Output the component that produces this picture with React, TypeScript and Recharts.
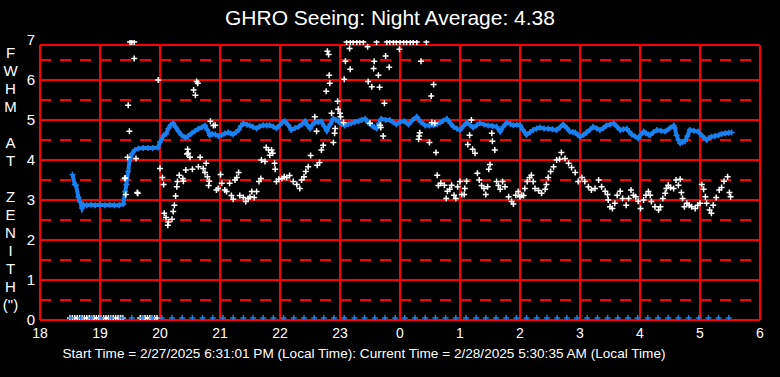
import React from 'react'
import { ScatterChart, Scatter, XAxis, YAxis, ReferenceLine } from 'recharts'

// hours after 18:00, values past midnight continue as 24, 25 ...
const hourTicks = [18, 19, 20, 21, 22, 23, 24, 25, 26, 27, 28, 29, 30]
const seeingTicks = [0, 1, 2, 3, 4, 5, 6, 7]
const solidLevels = [0, 1, 2, 3, 4, 5, 6]
const dashedLevels = [0.5, 1.5, 2.5, 3.5, 4.5, 5.5, 6.5]
const plotTop = 6.875

const yTitle = ['F', 'W', 'H', 'M', '', 'A', 'T', '', 'Z', 'E', 'N', 'I', 'T', 'H', '(")']

// night average trace (blue)
const averageSeeing = [
  [18.54, 3.64], [18.58, 3.39], [18.6, 3.37], [18.64, 3.07], [18.67, 2.95], [18.7, 2.8], [18.72, 2.88],
  [18.78, 2.87], [18.85, 2.88], [18.92, 2.87], [19.0, 2.88], [19.08, 2.87], [19.16, 2.88], [19.24, 2.87],
  [19.32, 2.87], [19.39, 2.9], [19.42, 3.21], [19.44, 3.39], [19.47, 3.71], [19.49, 3.96], [19.53, 4.15],
  [19.58, 4.25], [19.64, 4.29], [19.72, 4.3], [19.8, 4.3], [19.88, 4.3], [19.97, 4.31], [20.0, 4.45],
  [20.06, 4.62], [20.1, 4.65], [20.14, 4.79], [20.18, 4.88], [20.22, 4.92], [20.26, 4.82], [20.31, 4.71],
  [20.36, 4.62], [20.42, 4.56], [20.47, 4.6], [20.53, 4.67], [20.58, 4.72], [20.64, 4.78], [20.7, 4.82],
  [20.75, 4.86], [20.79, 4.75], [20.83, 4.62], [20.87, 4.65], [20.92, 4.64], [20.97, 4.6], [21.03, 4.62],
  [21.08, 4.66], [21.14, 4.69], [21.18, 4.66], [21.22, 4.64], [21.27, 4.7], [21.31, 4.75], [21.35, 4.85],
  [21.39, 4.92], [21.45, 4.88], [21.5, 4.86], [21.55, 4.83], [21.61, 4.79], [21.66, 4.84], [21.72, 4.87],
  [21.78, 4.86], [21.83, 4.87], [21.89, 4.83], [21.94, 4.79], [22.0, 4.88], [22.04, 4.95], [22.08, 4.97],
  [22.14, 4.87], [22.19, 4.75], [22.25, 4.8], [22.31, 4.83], [22.37, 4.9], [22.42, 4.97], [22.46, 4.86],
  [22.5, 4.79], [22.54, 4.88], [22.58, 4.94], [22.64, 4.95], [22.69, 4.96], [22.74, 4.84], [22.78, 4.73],
  [22.84, 4.9], [22.89, 5.03], [22.93, 5.0], [22.97, 4.97], [23.03, 4.9], [23.08, 4.86], [23.14, 4.9],
  [23.19, 4.92], [23.25, 4.95], [23.31, 4.97], [23.36, 5.0], [23.42, 5.03], [23.47, 4.93], [23.53, 4.86],
  [23.57, 4.82], [23.61, 4.79], [23.65, 4.92], [23.69, 5.03], [23.76, 5.0], [23.83, 5.0], [23.89, 4.94],
  [23.94, 4.89], [24.0, 4.95], [24.07, 4.97], [24.14, 4.89], [24.21, 5.0], [24.28, 5.08], [24.35, 4.95],
  [24.42, 4.86], [24.49, 4.86], [24.56, 4.87], [24.62, 4.9], [24.67, 4.94], [24.72, 4.98], [24.78, 5.03],
  [24.84, 4.92], [24.89, 4.83], [24.95, 4.78], [25.0, 4.75], [25.06, 4.85], [25.11, 4.94], [25.17, 4.87],
  [25.22, 4.81], [25.28, 4.87], [25.33, 4.92], [25.4, 4.89], [25.47, 4.86], [25.54, 4.85], [25.61, 4.83],
  [25.67, 4.71], [25.72, 4.83], [25.78, 4.94], [25.84, 4.9], [25.89, 4.87], [25.95, 4.88], [26.0, 4.87],
  [26.05, 4.75], [26.11, 4.63], [26.17, 4.7], [26.22, 4.75], [26.28, 4.79], [26.33, 4.81], [26.4, 4.79],
  [26.47, 4.78], [26.54, 4.77], [26.61, 4.75], [26.67, 4.82], [26.72, 4.89], [26.78, 4.8], [26.83, 4.71],
  [26.88, 4.7], [26.92, 4.69], [26.96, 4.63], [27.0, 4.58], [27.06, 4.63], [27.11, 4.69], [27.17, 4.76],
  [27.22, 4.83], [27.28, 4.79], [27.33, 4.75], [27.39, 4.8], [27.44, 4.86], [27.5, 4.89], [27.56, 4.92],
  [27.61, 4.84], [27.67, 4.75], [27.72, 4.77], [27.78, 4.78], [27.82, 4.71], [27.86, 4.64], [27.92, 4.59],
  [27.97, 4.54], [28.02, 4.64], [28.06, 4.71], [28.1, 4.67], [28.14, 4.64], [28.17, 4.62], [28.22, 4.69],
  [28.28, 4.75], [28.35, 4.73], [28.42, 4.71], [28.49, 4.79], [28.56, 4.86], [28.58, 4.8], [28.61, 4.62],
  [28.64, 4.5], [28.67, 4.42], [28.71, 4.45], [28.75, 4.47], [28.79, 4.6], [28.83, 4.75], [28.9, 4.73],
  [28.97, 4.71], [29.04, 4.6], [29.11, 4.5], [29.15, 4.55], [29.19, 4.58], [29.25, 4.6], [29.31, 4.62],
  [29.36, 4.65], [29.42, 4.67], [29.48, 4.68], [29.53, 4.69],
]

// individual samples (white), 6.95 = clipped at top
const sampleSeeing = [
  [19.5, 6.95], [19.53, 6.95], [19.57, 6.95], [19.57, 6.54], [19.97, 6.0], [19.47, 5.37], [19.49, 4.72],
  [19.46, 4.07], [19.6, 4.04], [19.41, 3.54], [19.42, 3.55], [19.43, 3.14], [19.62, 3.19], [19.63, 3.17],
  [20.0, 3.79], [20.04, 3.56], [20.06, 3.39], [20.07, 2.67], [20.1, 2.56], [20.13, 2.37], [20.14, 2.45],
  [20.2, 2.52], [20.22, 2.71], [20.24, 2.87], [20.26, 3.1], [20.28, 3.33], [20.29, 3.46], [20.32, 3.62],
  [20.38, 3.54], [20.39, 3.47], [20.43, 3.75], [20.46, 4.27], [20.47, 4.17], [20.45, 4.15], [20.5, 4.07],
  [20.54, 3.77], [20.56, 5.75], [20.59, 5.62], [20.61, 5.96], [20.63, 5.92], [20.64, 3.83], [20.67, 4.07],
  [20.72, 3.79], [20.77, 3.92], [20.75, 3.69], [20.79, 3.58], [20.82, 3.47], [20.81, 3.36], [20.84, 4.97],
  [20.89, 4.86], [20.92, 4.87], [20.94, 3.25], [20.97, 3.29], [21.01, 3.64], [21.03, 3.42], [21.08, 3.25],
  [21.11, 3.21], [21.16, 3.42], [21.19, 3.11], [21.22, 3.02], [21.25, 3.5], [21.28, 3.56], [21.31, 3.69],
  [21.33, 3.11], [21.39, 3.06], [21.43, 2.96], [21.47, 3.04], [21.5, 3.08], [21.53, 3.21], [21.57, 3.06],
  [21.61, 3.21], [21.65, 3.46], [21.68, 3.54], [21.69, 4.0], [21.75, 3.96], [21.77, 4.31], [21.81, 4.25],
  [21.83, 4.12], [21.86, 4.25], [21.88, 4.17], [21.91, 3.92], [21.92, 3.77], [21.94, 3.46], [21.98, 3.52],
  [22.03, 3.54], [22.07, 3.58], [22.11, 3.56], [22.16, 3.61], [22.22, 3.46], [22.28, 3.39], [22.33, 3.29],
  [22.36, 3.5], [22.4, 3.58], [22.43, 3.71], [22.47, 3.83], [22.51, 4.11], [22.58, 5.08], [22.61, 4.72],
  [22.62, 3.87], [22.66, 3.94], [22.69, 4.25], [22.72, 4.37], [22.77, 5.72], [22.79, 6.72], [22.81, 6.64],
  [22.82, 6.12], [22.83, 5.92], [22.86, 5.17], [22.89, 4.44], [22.91, 4.67], [22.92, 4.79], [22.96, 5.47],
  [22.97, 5.27], [23.0, 5.17], [23.01, 5.08], [23.06, 4.94], [23.07, 6.02], [23.09, 6.47], [23.16, 6.79],
  [23.17, 6.27], [23.11, 6.95], [23.17, 6.95], [23.22, 6.95], [23.28, 6.95], [23.33, 6.95], [23.39, 6.95],
  [23.61, 6.95], [23.78, 6.95], [23.83, 6.95], [23.89, 6.95], [23.94, 6.95], [24.0, 6.95], [24.06, 6.95],
  [24.11, 6.95], [24.17, 6.95], [24.22, 6.95], [24.28, 6.95], [24.44, 6.95],
  [23.46, 6.83], [23.47, 5.96], [23.53, 5.83], [23.56, 6.29], [23.57, 6.47], [23.64, 6.12], [23.66, 5.82],
  [23.76, 6.6], [23.82, 6.32], [23.74, 5.42], [23.5, 4.92], [23.67, 4.87], [23.68, 4.81], [23.72, 4.6],
  [23.99, 6.77], [24.35, 6.47], [24.56, 5.89], [24.52, 5.6], [24.31, 4.52], [24.33, 4.68], [24.32, 4.6],
  [24.49, 4.44], [24.6, 4.19], [24.53, 4.94], [24.58, 4.92], [24.62, 3.62], [24.64, 3.36], [24.68, 3.42],
  [24.74, 3.37], [24.77, 3.04], [24.79, 3.22], [24.83, 3.27], [24.86, 3.37], [24.9, 3.12], [24.93, 3.04],
  [24.96, 3.33], [25.0, 3.46], [25.03, 3.14], [25.07, 3.14], [25.08, 3.29], [25.11, 3.47], [25.13, 4.39],
  [25.16, 4.62], [25.19, 5.0], [25.21, 4.27], [25.25, 4.17], [25.29, 3.67], [25.32, 3.5], [25.36, 3.36],
  [25.4, 3.29], [25.43, 3.14], [25.46, 3.33], [25.48, 3.77], [25.5, 3.89], [25.53, 4.67], [25.54, 4.47],
  [25.58, 4.25], [25.61, 3.46], [25.64, 3.36], [25.67, 3.27], [25.71, 3.46], [25.75, 3.33], [25.81, 3.08],
  [25.86, 2.96], [25.89, 2.9], [25.93, 3.12], [25.97, 3.21], [26.0, 3.08], [26.03, 3.12], [26.06, 3.11],
  [26.08, 3.29], [26.12, 3.46], [26.16, 3.56], [26.19, 3.62], [26.22, 3.46], [26.25, 3.29], [26.31, 3.24],
  [26.36, 3.17], [26.42, 3.27], [26.44, 3.39], [26.47, 3.56], [26.51, 3.71], [26.56, 3.83], [26.61, 4.0],
  [26.66, 4.02], [26.69, 4.19], [26.75, 4.04], [26.81, 3.92], [26.86, 3.81], [26.92, 3.69], [26.97, 3.46],
  [27.03, 3.56], [27.08, 3.46], [27.14, 3.33], [27.19, 3.25], [27.25, 3.29], [27.31, 3.5], [27.36, 3.33],
  [27.42, 3.22], [27.46, 3.14], [27.47, 3.0], [27.5, 2.83], [27.54, 2.79], [27.58, 2.92], [27.62, 3.12],
  [27.67, 3.22], [27.71, 3.04], [27.77, 2.87], [27.81, 3.04], [27.85, 3.25], [27.89, 3.12], [27.93, 3.08],
  [27.97, 2.97], [28.01, 2.79], [28.06, 3.0], [28.1, 3.12], [28.14, 3.21], [28.17, 3.12], [28.19, 2.96],
  [28.25, 2.83], [28.31, 2.75], [28.34, 2.83], [28.38, 3.04], [28.42, 3.17], [28.44, 3.29], [28.47, 3.37],
  [28.51, 3.31], [28.56, 3.29], [28.6, 3.5], [28.64, 3.37], [28.67, 3.52], [28.69, 3.19], [28.71, 3.04],
  [28.74, 2.83], [28.78, 2.92], [28.82, 2.87], [28.86, 2.83], [28.92, 2.79], [28.96, 2.87], [29.0, 2.92],
  [29.03, 3.39], [29.06, 3.27], [29.09, 3.08], [29.11, 2.92], [29.16, 2.75], [29.19, 2.67], [29.22, 2.87],
  [29.27, 3.06], [29.32, 3.25], [29.36, 3.31], [29.4, 3.47], [29.46, 3.58], [29.49, 3.19], [29.51, 3.08],
]

// zero readings along the bottom
const sampleZeros = [
  18.5, 18.54, 18.58, 18.62, 18.66, 18.7, 18.74, 18.78, 18.82, 18.86, 18.9, 18.94, 18.98, 19.02, 19.06,
  19.1, 19.14, 19.18, 19.22, 19.26, 19.3, 19.34, 19.38, 19.67, 19.71, 19.75, 19.79, 19.83, 19.87, 19.91, 19.95,
]
const averageZeros = [
  18.52, 18.68, 18.85, 19.02, 19.19, 19.36, 19.53, 19.7, 19.87, 20.03, 20.2, 20.37, 20.54, 20.71, 20.88,
  21.05, 21.22, 21.39, 21.55, 21.72, 21.89, 22.06, 22.23, 22.4, 22.57, 22.73, 22.9, 23.07, 23.24, 23.41,
  23.58, 23.75, 23.92, 24.08, 24.25, 24.42, 24.59, 24.76, 24.93, 25.1, 25.27, 25.43, 25.6, 25.77, 25.94,
  26.11, 26.28, 26.45, 26.62, 26.78, 26.95, 27.12, 27.29, 27.46, 27.63, 27.8, 27.96, 28.13, 28.3, 28.47,
  28.64, 28.81, 28.98, 29.14, 29.31, 29.48,
]
const zeroLevel = 0.05

const RED = '#ff0000'
const BLUE = '#1a80f0'
const WHITE = '#ffffff'
const FONT = '"Liberation Sans", Arial, sans-serif'

const toPoints = (rows: number[][]) => rows.map(([h, v]) => ({ h, v }))
const zeroPoints = (times: number[]) => times.map((h) => ({ h, v: zeroLevel }))

function plus(color: string, size = 3) {
  return (props: any) => {
    const { cx, cy } = props
    if (cx == null || cy == null) return <g />
    return (
      <path
        d={`M${cx - size},${cy}H${cx + size}M${cx},${cy - size}V${cy + size}`}
        stroke={color}
        strokeWidth={1.5}
        fill="none"
      />
    )
  }
}

export default function App() {
  const labelStyle: React.CSSProperties = {
    position: 'absolute',
    color: WHITE,
    fontFamily: FONT,
    whiteSpace: 'nowrap',
  }

  return (
    <div style={{ position: 'absolute', left: 0, top: 0, width: 780, height: 377, background: '#000' }}>
      <div style={{ ...labelStyle, left: 0, width: 780, top: 6, textAlign: 'center', fontSize: 21 }}>
        GHRO Seeing: Night Average: 4.38
      </div>

      {yTitle.map((ch, i) => (
        <div
          key={i}
          style={{ ...labelStyle, left: 0, width: 21, top: 44 + i * 18, textAlign: 'center', fontSize: 15, lineHeight: '18px' }}
        >
          {ch}
        </div>
      ))}

      <ScatterChart width={780} height={377} margin={{ top: 40, right: 20, bottom: 0, left: 0 }}>
        <XAxis
          type="number"
          dataKey="h"
          domain={[18, 30]}
          ticks={hourTicks}
          tickFormatter={(h: number) => String(h % 24)}
          axisLine={false}
          tickLine={false}
          tickSize={6}
          height={57}
          tick={{ fill: WHITE, fontSize: 14, fontFamily: FONT }}
          allowDataOverflow
        />
        <YAxis
          type="number"
          dataKey="v"
          domain={[0, 7]}
          ticks={seeingTicks}
          axisLine={false}
          tickLine={false}
          tickSize={3}
          width={40}
          tick={{ fill: WHITE, fontSize: 15, fontFamily: FONT }}
          allowDataOverflow
        />

        {dashedLevels.map((y) => (
          <ReferenceLine key={'d' + y} y={y} stroke={RED} strokeWidth={2} strokeDasharray="11 9" />
        ))}
        {solidLevels.map((y) => (
          <ReferenceLine key={'s' + y} y={y} stroke={RED} strokeWidth={2} />
        ))}
        <ReferenceLine y={plotTop} stroke={RED} strokeWidth={2} />
        {hourTicks.map((h) => (
          <ReferenceLine
            key={'v' + h}
            segment={[{ x: h, y: 0 }, { x: h, y: plotTop }]}
            stroke={RED}
            strokeWidth={2}
          />
        ))}

        <Scatter
          data={toPoints(averageSeeing)}
          line={{ stroke: BLUE, strokeWidth: 4 }}
          shape={plus(BLUE)}
          isAnimationActive={false}
        />
        <Scatter data={zeroPoints(sampleZeros)} shape={plus(WHITE)} isAnimationActive={false} />
        <Scatter data={zeroPoints(averageZeros)} shape={plus(BLUE)} isAnimationActive={false} />
        <Scatter data={toPoints(sampleSeeing)} shape={plus(WHITE)} isAnimationActive={false} />
      </ScatterChart>

      <div style={{ ...labelStyle, left: 0, width: 728, top: 346, textAlign: 'center', fontSize: 13.6 }}>
        Start Time = 2/27/2025 6:31:01 PM (Local Time): Current Time = 2/28/2025 5:30:35 AM (Local Time)
      </div>
    </div>
  )
}
